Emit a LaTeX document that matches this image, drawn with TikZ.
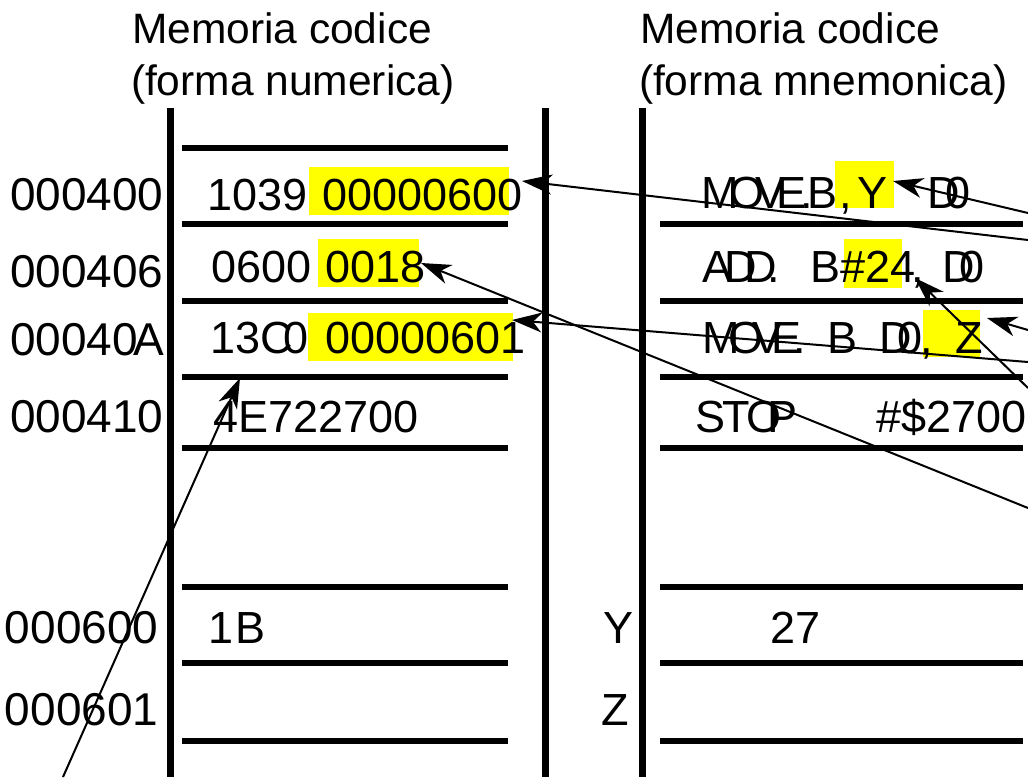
\documentclass[tikz,border=0pt]{standalone}
\usepackage{fontspec}
\setmainfont{Liberation Sans}
\usetikzlibrary{arrows.meta}
\definecolor{hlyellow}{RGB}{255,255,0}
\begin{document}
\begin{tikzpicture}[x=1pt,y=-1pt,
  txt/.style={anchor=base west, inner sep=0pt, outer sep=0pt, font=\fontsize{45}{50}\selectfont},
  adr/.style={anchor=base west, inner sep=0pt, outer sep=0pt, font=\fontsize{46}{50}\selectfont},
  ttl/.style={anchor=base west, inner sep=0pt, outer sep=0pt, font=\fontsize{42.5}{48}\selectfont},
  hl/.style={fill=hlyellow, draw=none},
  bar/.style={line width=7pt},
  rulebar/.style={line width=6pt},
  ptr/.style={line width=2pt, -{Stealth[length=30pt,width=20pt,inset=9pt]}},
]
\useasboundingbox (0,0) rectangle (1028,777);
% highlights
\fill[hl] (309,167) rectangle (509,215);
\fill[hl] (318,239) rectangle (419,287);
\fill[hl] (308,313) rectangle (513,361);
\fill[hl] (835,161) rectangle (894,208);
\fill[hl] (844,239) rectangle (902,288);
\fill[hl] (923,310) rectangle (980,357);
% titles
\node[ttl] (t1a) at (132,43) {Memoria codice};
\node[ttl] (t1b) at (131,95) {(forma numerica)};
\node[ttl] (t2a) at (640,43) {Memoria codice};
\node[ttl] (t2b) at (639,95) {(forma mnemonica)};
% addresses
\node[adr] (a1) at (10,210) {000400};
\node[adr] (a2) at (10,287) {000406};
\node[adr] (a3) at (10,355) {00040\kern-4pt A};
\node[adr] (a4) at (10,432) {000410};
\node[adr] (a5) at (5,643) {000600};
\node[adr] (a6) at (5,725) {000601};
% numeric column
\node[txt] (n1a) at (207,210) {1039};
\node[txt] (n1b) at (322,210) {00000600};
\node[txt] (n2a) at (211,282) {0600};
\node[txt] (n2b) at (325,282) {0018};
\node[txt] (n3a) at (210,353) {13C\kern-9pt 0};
\node[txt] (n3b) at (325,353) {00000601};
\node[txt] (n4) at (213,432) {4E722700};
\node[txt] (n5) at (208,643) {1\kern3pt B};
% mnemonic column
\node[txt] (m1a) at (701,208) {M\kern-9pt O\kern-9pt V\kern-9pt E\kern-6pt .\kern-6pt B};
\node[txt] (m1b) at (839,208) {,};
\node[txt] (m1c) at (857,208) {Y};
\node[txt] (m1d) at (927,208) {D\kern-14pt 0};
\node[txt] (m2a) at (702,282) {A\kern-8pt D\kern-12pt D\kern-10pt .};
\node[txt] (m2b) at (810,282) {B};
\node[txt] (m2c) at (840,282) {\#24};
\node[txt] (m2d) at (911,282) {,};
\node[txt] (m2e) at (942,282) {D\kern-15pt 0};
\node[txt] (m3a) at (702,353) {M\kern-11pt O\kern-11pt V\kern-11pt E\kern-8pt .};
\node[txt] (m3b) at (827,353) {B};
\node[txt] (m3c) at (879,353) {D\kern-14pt 0\kern-2pt ,};
\node[txt] (m3d) at (955,353) {Z};
\node[txt] (m4a) at (695,432) {S\kern-3pt T\kern-3pt O\kern-14pt P};
\node[txt] (m4b) at (876,432) {\#\$2700};
\node[txt] (ly) at (603,643) {Y};
\node[txt] (v27) at (770,643) {27};
\node[txt] (lz) at (601,725) {Z};
% vertical bars
\draw[bar] (170,108) -- (170,777);
\draw[bar] (545,108) -- (545,777);
\draw[bar] (642,108) -- (642,777);
% horizontal rules
\foreach \yy in {148,224,301,377,448,587,663,741} \draw[rulebar] (182,\yy) -- (508,\yy);
\foreach \yy in {224,301,377,448,587,663,741} \draw[rulebar] (660,\yy) -- (1023,\yy);
% arrow end points
\coordinate (s1) at (1028,240); \coordinate (e1) at (522,181);
\coordinate (s2) at (1028,213); \coordinate (e2) at (893,181);
\coordinate (s3) at (1028,508); \coordinate (e3) at (421,263);
\coordinate (s4) at (1028,362); \coordinate (e4) at (512,320);
\coordinate (s5) at (1028,330); \coordinate (e5) at (987,318);
\coordinate (s6) at (1028,388); \coordinate (e6) at (915,278);
\coordinate (s7) at (63,777);   \coordinate (e7) at (240,378);
\draw[ptr] (s1) -- (e1);
\draw[ptr] (s2) -- (e2);
\draw[ptr] (s3) -- (e3);
\draw[ptr] (s4) -- (e4);
\draw[ptr] (s5) -- (e5);
\draw[ptr] (s6) -- (e6);
\draw[ptr] (s7) -- (e7);
\end{tikzpicture}
\end{document}
